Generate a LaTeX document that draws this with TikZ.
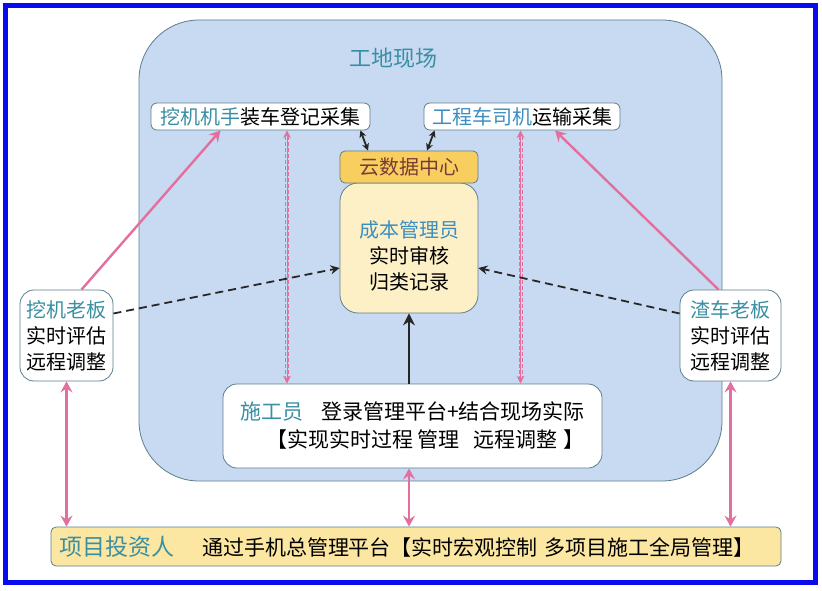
\documentclass[tikz,border=0pt]{standalone}
\usepackage{fontspec}
\setmainfont{Noto Sans CJK SC}
\usetikzlibrary{shapes}
\usetikzlibrary{arrows.meta}
\definecolor{siteblue}{HTML}{C8DAF2}
\definecolor{siteline}{HTML}{5E7D8C}
\definecolor{tealtxt}{HTML}{3A8FA3}
\definecolor{bluetxt}{HTML}{3D8DC0}
\definecolor{cloudfill}{HTML}{F8CF5E}
\definecolor{cloudtxt}{HTML}{7A3A36}
\definecolor{costfill}{HTML}{FDF0C6}
\definecolor{basefill}{HTML}{FBE6A2}
\definecolor{linkpink}{HTML}{E26F9E}
\definecolor{frameblue}{HTML}{0A0AF0}

\begin{document}
\begin{tikzpicture}[x=1pt,y=-1pt]
	\tikzstyle{box}=[draw=siteline,line width=0.8pt,fill=white,rounded corners=6pt,inner sep=2pt,font=\fontsize{20}{26}\selectfont,align=center]
	\tikzstyle{pinkline}=[linkpink,line width=2.4pt,>={Stealth[length=11pt,width=12pt,inset=4pt]}]
	\tikzstyle{pinkdash}=[linkpink,line width=0.8pt,dash pattern=on 4pt off 2pt]
	\tikzstyle{pinkhead}=[linkpink,line width=0.8pt,>={Stealth[length=8pt,width=8pt,inset=3pt]}]
	\tikzstyle{darkdash}=[black!85,line width=1.8pt,dash pattern=on 8pt off 5pt,->,>={Stealth[length=9pt,width=9pt,inset=3pt]}]
	\tikzstyle{darklink}=[black!85,line width=1.8pt,<->,>={Stealth[length=7pt,width=7pt,inset=2pt]}]
	\useasboundingbox (0,0) rectangle (822,591);
	\draw[frameblue,line width=5pt] (5.5,5.5) rectangle (815.5,582.5);
	
	% site area
	\draw[siteline,line width=0.8pt,fill=siteblue,rounded corners=60pt] (139,20) rectangle (722,481);
	\node[font=\fontsize{22}{24}\selectfont,text=tealtxt] (site) at (393,58) {工地现场};
	
	\node[box,minimum width=219pt,minimum height=27pt] (wj) at (260.5,116.5) {\textcolor{tealtxt}{挖机机手}装车登记采集};
	\node[box,minimum width=196pt,minimum height=27pt] (gc) at (522,116.5) {\textcolor{bluetxt}{工程车司机}运输采集};
	\node[box,rounded corners=18pt,fill=costfill,minimum width=138pt,minimum height=130pt] (cost) at (409,248) {\rule{0pt}{32pt}\textcolor{bluetxt}{成本管理员}\\实时审核\\归类记录};
	\node[box,rounded corners=5pt,fill=cloudfill,text=cloudtxt,minimum width=138pt,minimum height=32pt] (cloud) at (409,167) {云数据中心};
	\node[box,rounded corners=14pt,minimum width=379pt,minimum height=84pt,align=left,font=\fontsize{21}{28}\selectfont] (sg) at (412.5,426) {\textcolor{tealtxt}{施工员}\hspace{18pt}登录管理平台+结合现场实际\\\hspace*{26pt}【实现实时过程\ 管理\hspace{14pt}远程调整\hspace{6pt}】};
	
	% bosses
	\node[box,rounded corners=14pt,minimum width=93pt,minimum height=91pt] (lb) at (66.5,335.5) {\textcolor{tealtxt}{挖机老板}\\实时评估\\远程调整};
	\node[box,rounded corners=14pt,minimum width=101pt,minimum height=91pt] (rb) at (730.5,335.5) {\textcolor{tealtxt}{渣车老板}\\实时评估\\远程调整};
	
	% investor
	\node[box,rounded corners=5pt,fill=basefill,minimum width=730pt,minimum height=39pt,align=left,text width=714pt,font=\fontsize{21}{26}\selectfont] (inv) at (416,546.5) {{\fontsize{23}{26}\selectfont\textcolor{tealtxt}{项目投资人}}\hspace{28pt}通过手机总管理平台【实时宏观控制 多项目施工全局管理】};
	
	% links
	\draw[pinkline,->] ([xshift=15pt]lb.north) -- ([xshift=-40pt]wj.south);
	\draw[pinkline,->] ([xshift=-12pt]rb.north) -- ([xshift=33pt]gc.south);
	\foreach \dx in {25,28}{
		\draw[pinkdash] ([xshift=\dx pt,yshift=-6pt]wj.south) -- ([xshift=\dx pt,yshift=6pt]wj.south |- sg.north);
		\draw[pinkdash] ([xshift=\dx pt-28pt,yshift=-6pt]gc.south) -- ([xshift=\dx pt-28pt,yshift=6pt]gc.south |- sg.north);
	}
	\draw[pinkhead,<->] ([xshift=26.5pt]wj.south) -- ([xshift=26.5pt]wj.south |- sg.north);
	\draw[pinkhead,<->] ([xshift=-1.5pt]gc.south) -- ([xshift=-1.5pt]gc.south |- sg.north);
	\draw[darklink] ([xshift=-10pt]wj.south east) -- ([xshift=-41pt]cloud.north);
	\draw[darklink] ([xshift=11pt]gc.south west) -- ([xshift=18pt]cloud.north);
	\draw[darkdash] ([yshift=22pt]lb.east) -- ([yshift=-20pt]cost.west);
	\draw[darkdash] ([yshift=22pt]rb.west) -- ([yshift=-20pt]cost.east);
	\draw[black!85,line width=2.6pt,->,>={Stealth[length=12pt,width=12pt,inset=4pt]}] (sg.north -| cost.south) -- (cost.south);
	\draw[pinkline,<->] (lb.south) -- (lb.south |- inv.north);
	\draw[pinkline,<->] (rb.south) -- (rb.south |- inv.north);
	\draw[pinkline,<->] (sg.south -| cost.south) -- (cost.south |- inv.north);
\end{tikzpicture}
\end{document}
